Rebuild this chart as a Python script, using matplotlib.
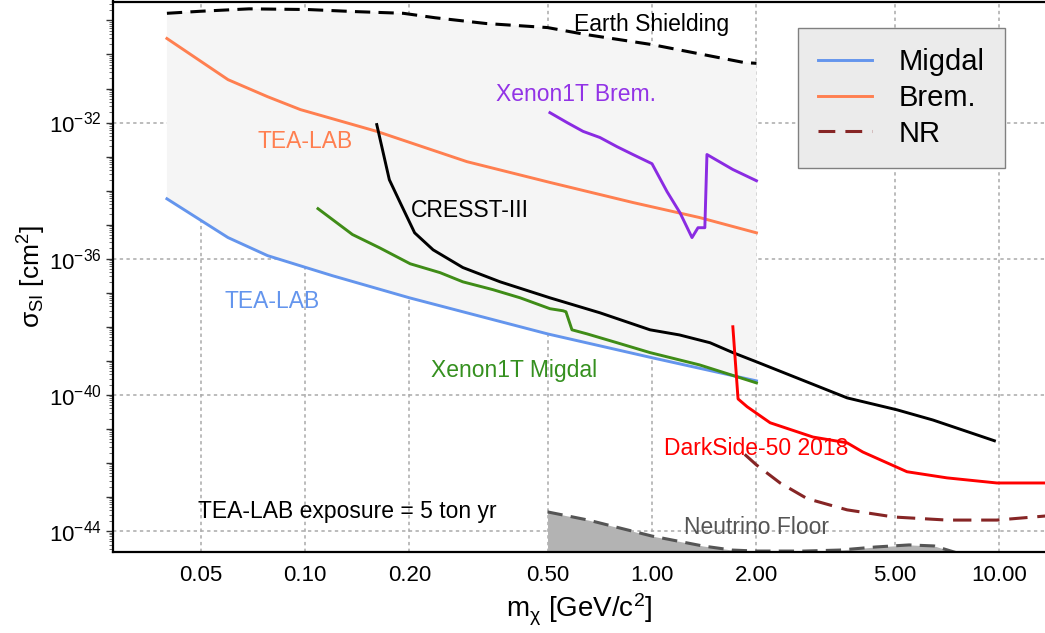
import numpy as np
import matplotlib
matplotlib.use("Agg")
import matplotlib.pyplot as plt
from matplotlib.ticker import FixedLocator, FuncFormatter, NullLocator
from matplotlib.lines import Line2D
from matplotlib.patches import Polygon

plt.rcParams.update({
    "font.family": ["Liberation Sans", "DejaVu Sans"],
    "mathtext.fontset": "custom",
    "mathtext.rm": "Liberation Sans",
    "mathtext.it": "Liberation Sans:italic",
    "mathtext.bf": "Liberation Sans:bold",
    "mathtext.sf": "Liberation Sans",
    "mathtext.default": "regular",
})

# ---------------- data ----------------
earth_m = [0.04, 0.050, 0.069, 0.102, 0.139, 0.192, 0.237, 0.332, 0.50, 0.641, 1.0, 1.40, 1.85, 2.0]
earth_s = [1.62e-29, 1.86e-29, 2.19e-29, 2.09e-29, 1.82e-29, 1.62e-29, 1.20e-29, 8.13e-30,
           6.17e-30, 3.89e-30, 1.95e-30, 1.0e-30, 5.75e-31, 5.5e-31]

brem_m = [0.04, 0.06, 0.078, 0.097, 0.161, 0.293, 0.508, 0.881, 1.37, 2.0]
brem_s = [2.95e-30, 1.82e-31, 5.75e-32, 2.40e-32, 5.50e-33, 7.08e-34, 1.74e-34, 4.47e-35,
          1.62e-35, 5.75e-36]

migdal_m = [0.04, 0.06, 0.078, 0.097, 0.12, 0.2, 0.5, 1.0, 2.0]
migdal_s = [5.75e-35, 4.17e-36, 1.23e-36, 6.17e-37, 3.16e-37, 7.08e-38, 6.17e-39, 1.23e-39, 2.57e-40]

xe_migdal_m = [0.109, 0.137, 0.164, 0.201, 0.245, 0.285, 0.348, 0.417, 0.508, 0.554, 0.565,
               0.588, 0.650, 0.793, 0.987, 1.37, 2.0]
xe_migdal_s = [2.95e-35, 5.13e-36, 2.09e-36, 7.08e-37, 3.89e-37, 2.09e-37, 1.23e-37, 7.08e-38,
               3.39e-38, 2.95e-38, 2.75e-38, 8.13e-39, 6.17e-39, 3.39e-39, 1.74e-39, 7.59e-40,
               2.24e-40]

cresst_m = [0.161, 0.175, 0.188, 0.207, 0.234, 0.285, 0.365, 0.508, 0.708, 0.987, 1.2, 1.47,
            1.71, 2.0, 3.65, 5.08, 6.45, 9.7]
cresst_s = [8.71e-33, 2.09e-34, 4.47e-35, 5.75e-36, 1.82e-36, 5.50e-37, 2.09e-37, 7.08e-38,
            2.57e-38, 8.13e-39, 5.75e-39, 3.39e-39, 1.74e-39, 9.33e-40, 8.13e-41, 3.63e-41,
            1.82e-41, 4.47e-42]

xe_brem_m = [0.508, 0.569, 0.633, 0.708, 0.793, 0.881, 1.0, 1.105, 1.204, 1.304, 1.357, 1.42,
             1.44, 1.71, 2.0]
xe_brem_s = [1.95e-32, 1.0e-32, 5.50e-33, 3.63e-33, 1.95e-33, 1.15e-33, 6.17e-34, 9.33e-35,
             2.24e-35, 4.17e-36, 8.13e-36, 8.13e-36, 1.15e-33, 4.17e-34, 1.95e-34]

darkside_m = [1.71, 1.77, 1.88, 2.19, 2.91, 3.65, 4.05, 5.43, 7.08, 9.86, 14.0]
darkside_s = [1.0e-38, 7.59e-41, 4.47e-41, 1.51e-41, 5.75e-42, 3.89e-42, 2.09e-42, 5.50e-43,
              3.63e-43, 2.57e-43, 2.57e-43]

nr_m = [1.85, 2.0, 2.34, 2.8, 3.65, 4.98, 7.08, 9.86, 14.0]
nr_s = [1.78e-42, 8.71e-43, 2.57e-43, 8.91e-44, 4.17e-44, 2.57e-44, 2.09e-44, 2.09e-44, 2.82e-44]

nu_m = [0.5, 0.655, 1.0, 1.40, 1.70, 2.0, 2.74, 3.48, 4.42, 5.51, 6.50, 7.6]
nu_s = [3.63e-44, 2.09e-44, 7.08e-45, 3.63e-45, 2.75e-45, 2.57e-45, 2.57e-45, 2.75e-45,
        3.39e-45, 3.89e-45, 3.63e-45, 2.24e-45]

x_ticks = [0.05, 0.10, 0.20, 0.50, 1.00, 2.00, 5.00, 10.00]
x_ticklabels = ["0.05", "0.10", "0.20", "0.50", "1.00", "2.00", "5.00", "10.00"]
y_label_exps = [-44, -40, -36, -32]

# ---------------- colours ----------------
C_BLUE = "#6495ED"
C_ORANGE = "#FF7F50"
C_GREEN = "#3f8c17"
C_PURPLE = "#8A2BE2"
C_RED = "#FF0000"
C_NR = "#862525"

fig = plt.figure(figsize=(10.45, 6.33), dpi=100)
ax = fig.add_axes([113 / 1045, 81 / 633, 932 / 1045, 550.5 / 633])
ax.set_xscale("log")
ax.set_yscale("log")
ax.set_xlim(0.02797, 13.57)
ax.set_ylim(2.41e-45, 3.6e-29)

# grid (manual, dotted, under everything)
for xv in x_ticks:
    ax.axvline(xv, color="#aaaaaa", lw=1.1, ls=(0, (2.2, 2.2)), zorder=0.5)
for e in y_label_exps:
    ax.axhline(10.0 ** e, color="#aaaaaa", lw=1.1, ls=(0, (2.2, 2.2)), zorder=0.5)

# shaded TEA-LAB region between Earth shielding and Migdal line
poly_x = list(earth_m) + list(migdal_m[::-1])
poly_y = list(earth_s) + list(migdal_s[::-1])
ax.add_patch(Polygon(np.column_stack([poly_x, poly_y]), closed=True,
                     facecolor="#f5f5f5", edgecolor="none", zorder=1))

# neutrino floor
ax.fill_between(nu_m, nu_s, 1e-47, color="#b3b3b3", lw=0, zorder=1.2)
ax.plot(nu_m, nu_s, color="#555555", lw=2.2, ls=(0, (5, 2.7)), zorder=1.5)

# curves
ax.plot(earth_m, earth_s, color="black", lw=2.2, ls=(0, (5, 2.7)), zorder=3)
ax.plot(brem_m, brem_s, color=C_ORANGE, lw=2.1, zorder=3)
ax.plot(migdal_m, migdal_s, color=C_BLUE, lw=2.1, zorder=3)
ax.plot(xe_migdal_m, xe_migdal_s, color=C_GREEN, lw=2.1, zorder=3)
ax.plot(cresst_m, cresst_s, color="black", lw=2.1, zorder=3)
ax.plot(xe_brem_m, xe_brem_s, color=C_PURPLE, lw=2.1, zorder=3)
ax.plot(darkside_m, darkside_s, color=C_RED, lw=2.1, zorder=3)
ax.plot(nr_m, nr_s, color=C_NR, lw=2.2, ls=(0, (6, 3.2)), zorder=3)

# annotations
fs = 16.5
ax.text(1.0, 10 ** -29.12, "Earth Shielding", color="black", fontsize=fs, ha="center", va="center", zorder=4)
ax.text(0.604, 10 ** -31.18, "Xenon1T Brem.", color="#9233e6", fontsize=fs, ha="center", va="center", zorder=4)
ax.text(0.1, 10 ** -32.56, "TEA-LAB", color=C_ORANGE, fontsize=fs, ha="center", va="center", zorder=4)
ax.text(0.299, 10 ** -34.59, "CRESST-III", color="black", fontsize=fs, ha="center", va="center", zorder=4)
ax.text(0.0804, 10 ** -37.26, "TEA-LAB", color=C_BLUE, fontsize=fs, ha="center", va="center", zorder=4)
ax.text(0.400, 10 ** -39.29, "Xenon1T Migdal", color="#35901f", fontsize=fs, ha="center", va="center", zorder=4)
ax.text(2.0, 10 ** -41.59, "DarkSide-50 2018", color=C_RED, fontsize=fs, ha="center", va="center", zorder=4)
ax.text(0.132, 10 ** -43.44, "TEA-LAB exposure = 5 ton yr", color="black", fontsize=fs, ha="center", va="center", zorder=4)
ax.text(2.0, 10 ** -43.91, "Neutrino Floor", color="#555555", fontsize=fs, ha="center", va="center", zorder=4)

# ticks
ax.xaxis.set_major_locator(FixedLocator(x_ticks))
ax.xaxis.set_major_formatter(FuncFormatter(lambda v, p: x_ticklabels[x_ticks.index(min(x_ticks, key=lambda t: abs(t - v)))]))
ax.xaxis.set_minor_locator(NullLocator())
ax.tick_params(axis="x", which="major", length=0, pad=9.5, labelsize=16)

maj_y = [10.0 ** e for e in range(-46, -27)]
ax.yaxis.set_major_locator(FixedLocator(maj_y))


def yfmt(v, p):
    e = int(round(np.log10(v)))
    return r"$10^{%d}$" % e if e in y_label_exps else ""


ax.yaxis.set_major_formatter(FuncFormatter(yfmt))
ax.yaxis.set_minor_locator(FixedLocator([m * 10.0 ** e for e in range(-46, -27) for m in range(2, 10)]))
ax.tick_params(axis="y", which="major", length=5, width=1.0, pad=3, labelsize=16, color="#333333")
ax.tick_params(axis="y", which="minor", length=3, width=0.6, color="#555555")

for s in ["left", "bottom", "top"]:
    ax.spines[s].set_linewidth(1.6)
    ax.spines[s].set_color("black")
ax.spines["right"].set_visible(False)

ax.set_xlabel(r"m$_{\chi}$ [GeV/c$^{2}$]", fontsize=20, labelpad=4)
ax.set_ylabel(r"$\sigma_{SI}$ [cm$^{2}$]", fontsize=19, labelpad=1)

# legend
handles = [Line2D([], [], color=C_BLUE, lw=2.1),
           Line2D([], [], color=C_ORANGE, lw=2.1),
           Line2D([], [], color=C_NR, lw=2.2, ls=(0, (5.5, 3.3)))]
leg = ax.legend(handles, ["Migdal", "Brem.", "NR"], loc="upper left",
                bbox_to_anchor=(0.735, 0.952), borderaxespad=0, fontsize=21, frameon=True,
                fancybox=False, borderpad=0.7, labelspacing=0.26, handlelength=1.85,
                handletextpad=0.9, framealpha=1.0)
leg.get_frame().set_facecolor("#ebebeb")
leg.get_frame().set_edgecolor("#808080")
leg.get_frame().set_linewidth(1.0)
leg.set_zorder(6)

fig.savefig("out.png", dpi=100)
